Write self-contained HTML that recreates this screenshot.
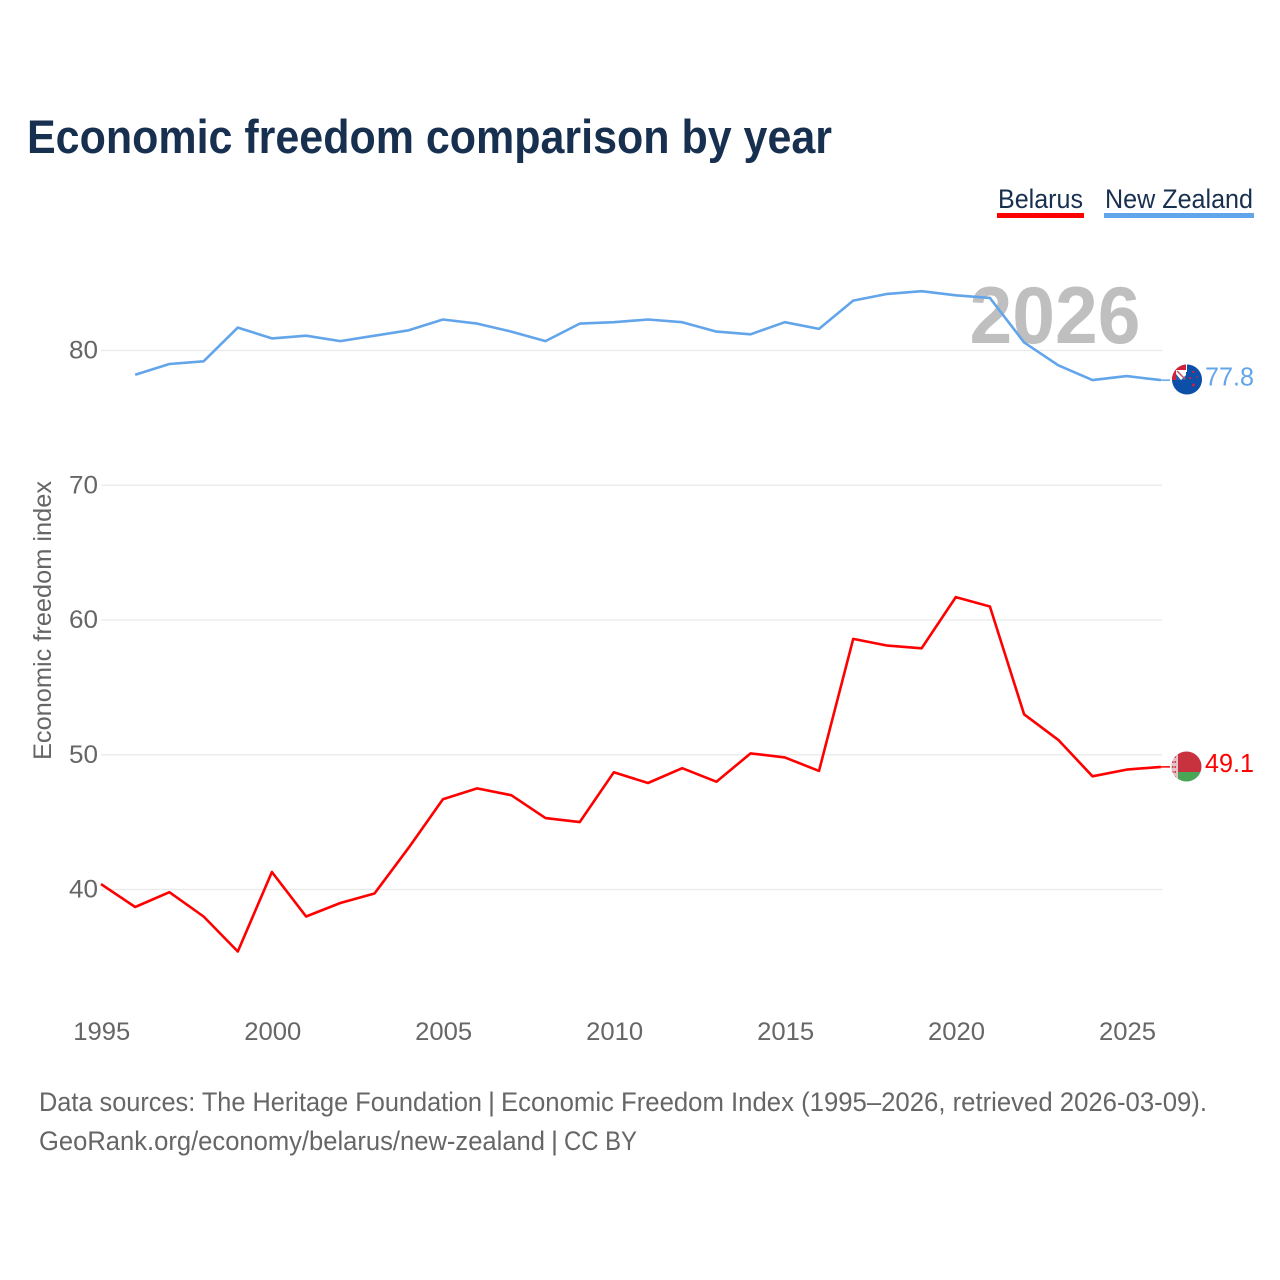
<!DOCTYPE html>
<html lang="en">
<head>
<meta charset="utf-8">
<title>Economic freedom comparison by year</title>
<style>
html,body{margin:0;padding:0;background:#fff;width:1280px;height:1280px;overflow:hidden}
svg{display:block}
text{font-family:"Liberation Sans",sans-serif}
</style>
</head>
<body>
<svg id="chart" xmlns="http://www.w3.org/2000/svg" width="1280" height="1280" viewBox="0 0 1280 1280">
  <defs>
    <clipPath id="clip-nz"><circle cx="1187" cy="379.5" r="15"/></clipPath>
    <clipPath id="clip-by"><circle cx="1186.5" cy="766.5" r="15"/></clipPath>
  </defs>
  <rect x="0" y="0" width="1280" height="1280" fill="#ffffff"/>
  <text x="27" y="153" font-size="47" font-weight="700" fill="#18304f" textLength="805" lengthAdjust="spacingAndGlyphs">Economic freedom comparison by year</text>

  <g>
    <text x="998" y="208" font-size="27" fill="#18304f" textLength="85" lengthAdjust="spacingAndGlyphs">Belarus</text>
    <rect x="997" y="213" width="87" height="5" fill="#ff0000"/>
  </g>
  <g>
    <text x="1105" y="208" font-size="27" fill="#18304f" textLength="148" lengthAdjust="spacingAndGlyphs">New Zealand</text>
    <rect x="1104" y="213" width="150" height="5" fill="#62a5ea"/>
  </g>

  <g id="grid"></g>
  <text x="969.5" y="343" font-size="81" font-weight="700" fill="#bfbfbf" textLength="171" lengthAdjust="spacingAndGlyphs">2026</text>
  <g id="yticks"></g>
  <g id="xticks"></g>
  <text transform="translate(51,760) rotate(-90)" font-size="25" fill="#666666" textLength="279" lengthAdjust="spacingAndGlyphs">Economic freedom index</text>
  <g id="series"></g>

  <g clip-path="url(#clip-nz)">
    <rect x="1171" y="364" width="32" height="32" fill="#0b4fa8"/>
    <rect x="1171" y="364" width="15" height="16" fill="#d5203a"/>
    <rect x="1176" y="370" width="10" height="10" fill="#ffffff"/>
    <path d="M1181 380 L1186 380 L1186 375 Z" fill="#2a5aa8"/>
    <path d="M1176 374 L1176 380 L1181 380 Z" fill="#2a5aa8"/>
    <path d="M1177 371 L1185 379" stroke="#c0506a" stroke-width="1.5"/>
    <rect x="1186" y="364" width="1" height="8" fill="#ffffff"/>
    <circle cx="1193.5" cy="372" r="1.2" fill="#d5203a"/>
    <circle cx="1197" cy="377" r="0.9" fill="#d5203a"/>
    <circle cx="1190" cy="378" r="1.2" fill="#d5203a"/>
    <circle cx="1193.5" cy="385" r="1.5" fill="#d5203a"/>
  </g>

  <g clip-path="url(#clip-by)">
    <rect x="1171" y="751" width="31" height="21" fill="#c8313e"/>
    <rect x="1171" y="772" width="31" height="11" fill="#4aa657"/>
    <rect x="1171" y="751" width="7" height="32" fill="#e3c3c7"/>
    <path d="M1172 757h5M1172 762h5M1172 767h5M1172 772h5M1172 777h5" stroke="#c8313e" stroke-width="1.8" stroke-dasharray="1.5 1"/>
  </g>

  <text x="1205" y="385.5" font-size="26" fill="#62a5ea" textLength="49" lengthAdjust="spacingAndGlyphs">77.8</text>
  <text x="1205" y="772" font-size="26" fill="#ff0000" textLength="49" lengthAdjust="spacingAndGlyphs">49.1</text>

  <g font-size="27" fill="#666666">
    <text x="39" y="1111" textLength="443" lengthAdjust="spacingAndGlyphs">Data sources: The Heritage Foundation</text>
    <text x="488" y="1111">|</text>
    <text x="501" y="1111" textLength="706" lengthAdjust="spacingAndGlyphs">Economic Freedom Index (1995–2026, retrieved 2026-03-09).</text>
  </g>
  <g font-size="27" fill="#666666">
    <text x="39" y="1150" textLength="506" lengthAdjust="spacingAndGlyphs">GeoRank.org/economy/belarus/new-zealand</text>
    <text x="551" y="1150">|</text>
    <text x="564" y="1150" textLength="73" lengthAdjust="spacingAndGlyphs">CC BY</text>
  </g>
</svg>
<script>
const years = [1995,1996,1997,1998,1999,2000,2001,2002,2003,2004,2005,2006,2007,2008,2009,2010,2011,2012,2013,2014,2015,2016,2017,2018,2019,2020,2021,2022,2023,2024,2025,2026];
const belarusValues = [40.4,38.7,39.8,38.0,35.4,41.3,38.0,39.0,39.7,43.1,46.7,47.5,47.0,45.3,45.0,48.7,47.9,49.0,48.0,50.1,49.8,48.8,58.6,58.1,57.9,61.7,61.0,53.0,51.1,48.4,48.9,49.1];
const newZealandValues = [null,78.2,79.0,79.2,81.7,80.9,81.1,80.7,81.1,81.5,82.3,82.0,81.4,80.7,82.0,82.1,82.3,82.1,81.4,81.2,82.1,81.6,83.7,84.2,84.4,84.1,83.9,80.6,78.9,77.8,78.1,77.8];
const yTickValues = [40,50,60,70,80];
const xTickValues = [1995,2000,2005,2010,2015,2020,2025];

const NS = 'http://www.w3.org/2000/svg';
function xScale(year){ return 101 + (year - 1995) * 34.19; }
function yScale(value){ return 889.5 - (value - 40) * 13.475; }
function make(tag, attrs, text){
  const el = document.createElementNS(NS, tag);
  for (const k in attrs) el.setAttribute(k, attrs[k]);
  if (text !== undefined) el.textContent = text;
  return el;
}

const grid = document.getElementById('grid');
const yticks = document.getElementById('yticks');
yTickValues.forEach(function(v){
  const line = make('line', {x1:101, x2:1162, y1:yScale(v), y2:yScale(v), stroke:'#e9e9e9', 'stroke-width':1.3});
  
  
  grid.appendChild(line);
  const label = make('text', {x:98, y:yScale(v) + 8, 'text-anchor':'end', 'font-size':25, fill:'#666666', textLength:29, lengthAdjust:'spacingAndGlyphs'}, String(v));
  
  
  yticks.appendChild(label);
});

const xticks = document.getElementById('xticks');
xTickValues.forEach(function(y){
  const label = make('text', {x:xScale(y) + 0.8, y:1040, 'text-anchor':'middle', 'font-size':25, fill:'#666666', textLength:57, lengthAdjust:'spacingAndGlyphs'}, String(y));
  
  
  xticks.appendChild(label);
});

function pointsFor(values){
  const pts = [];
  values.forEach(function(v, i){
    if (v !== null) pts.push(xScale(years[i]).toFixed(1) + ',' + yScale(v).toFixed(1));
  });
  return pts.join(' ');
}
function lastY(values){ return yScale(values[values.length - 1]); }

const series = document.getElementById('series');

const lineNz = make('polyline', {points:pointsFor(newZealandValues), fill:'none', stroke:'#62a5ea', 'stroke-width':2.6, 'stroke-linejoin':'round'});


series.appendChild(lineNz);

const lineBy = make('polyline', {points:pointsFor(belarusValues), fill:'none', stroke:'#ff0000', 'stroke-width':2.6, 'stroke-linejoin':'round'});


series.appendChild(lineBy);

const leaderNz = make('line', {x1:xScale(2026), x2:1170, y1:lastY(newZealandValues), y2:lastY(newZealandValues), stroke:'#62a5ea', 'stroke-width':1.5});


series.appendChild(leaderNz);

const leaderBy = make('line', {x1:xScale(2026), x2:1170, y1:lastY(belarusValues), y2:lastY(belarusValues), stroke:'#ff0000', 'stroke-width':1.5});


series.appendChild(leaderBy);
</script>
</body>
</html>
